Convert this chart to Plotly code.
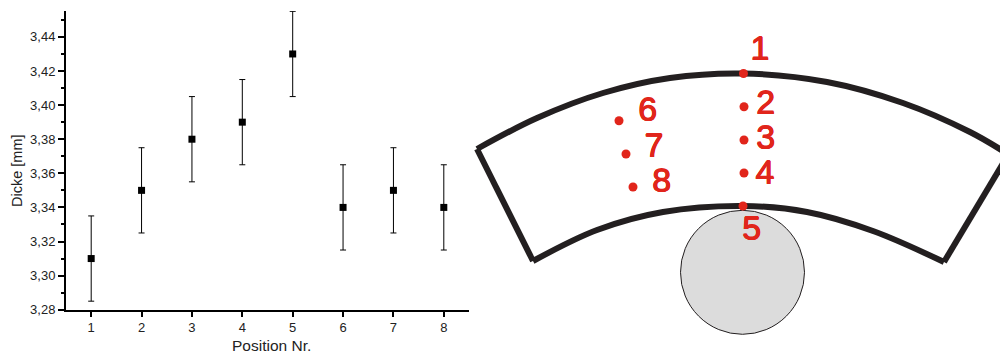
"""Dicke per Messposition, next to a sketch of the bent sample with the numbered positions."""

import plotly.graph_objects as go

# measurements
positions = [1, 2, 3, 4, 5, 6, 7, 8]
dicke = [3.31, 3.35, 3.38, 3.39, 3.43, 3.34, 3.35, 3.34]
dicke_err = [0.025, 0.025, 0.025, 0.025, 0.025, 0.025, 0.025, 0.025]
y_ticks = [3.28, 3.30, 3.32, 3.34, 3.36, 3.38, 3.40, 3.42, 3.44]

# sketch in page pixels
outer_x = [477, 537, 603, 670, 743, 827, 903, 970, 1003]
outer_y = [149, 118, 93, 78, 73.5, 82, 103, 132, 151]
inner_x = [533, 597, 663, 743, 807, 873, 944]
inner_y = [261, 230, 212, 206, 212, 231, 262]
left_x = [477, 533]
left_y = [149, 261]
right_x = [944, 1005]
right_y = [262, 160]
roller_x = [742.5]
roller_y = [272.3]
dot_x = [743.5, 744, 744, 744, 743, 619, 626, 633]
dot_y = [73.5, 106.7, 140, 173, 206, 120.7, 154, 187]
label_x = [760, 765.7, 765.7, 765, 751.7, 647.7, 654, 661.7]
label_y = [51, 105, 140, 175, 231, 112, 148, 183]
labels = ["1", "2", "3", "4", "5", "6", "7", "8"]

RED = "#e1251b"
DARK = "#231f20"
FONT = "Liberation Sans"

fig = go.Figure()

fig.add_trace(go.Scatter(
    x=positions,
    y=dicke,
    mode="markers",
    marker=dict(symbol="square", size=7, color="black"),
    error_y=dict(type="data", array=dicke_err, color="black", thickness=1, width=3),
    cliponaxis=False,
))

# sketch goes on a second pair of axes that spans the whole page
fig.add_trace(go.Scatter(
    x=roller_x,
    y=roller_y,
    mode="markers",
    marker=dict(size=124, color="#dcdcdc", line=dict(color="#231f20", width=1)),
    xaxis="x2",
    yaxis="y2",
))
for xs, ys, shape in [
    (outer_x, outer_y, "spline"),
    (inner_x, inner_y, "spline"),
    (left_x, left_y, "linear"),
    (right_x, right_y, "linear"),
]:
    fig.add_trace(go.Scatter(
        x=xs,
        y=ys,
        mode="lines",
        line=dict(color=DARK, width=6, shape=shape, smoothing=1),
        xaxis="x2",
        yaxis="y2",
    ))
fig.add_trace(go.Scatter(
    x=dot_x,
    y=dot_y,
    mode="markers",
    marker=dict(size=9, color=RED),
    xaxis="x2",
    yaxis="y2",
))
fig.add_trace(go.Scatter(
    x=label_x,
    y=label_y,
    mode="text",
    text=labels,
    textposition="middle center",
    # regular digits came out too thin, bold too heavy
    textfont=dict(
        family=FONT,
        size=34,
        color=RED,
        shadow=f"0.5px 0 0 {RED}, -0.5px 0 0 {RED}, 0 0.5px 0 {RED}, 0 -0.5px 0 {RED}",
    ),
    xaxis="x2",
    yaxis="y2",
))

fig.update_layout(
    width=1000,
    height=356,
    margin=dict(l=0, r=0, t=0, b=0),
    paper_bgcolor="white",
    plot_bgcolor="rgba(0,0,0,0)",
    showlegend=False,
    separators=",.",
    font=dict(family=FONT, size=13, color="#222222"),
    xaxis=dict(
        domain=[0.066, 0.469],
        range=[0.5, 8.5],
        tickvals=positions,
        ticks="outside",
        ticklen=5,
        tickwidth=2,
        tickcolor="black",
        showline=True,
        linecolor="black",
        linewidth=2,
        showgrid=False,
        zeroline=False,
        automargin=False,
    ),
    yaxis=dict(
        domain=[1 - 309.7 / 356, 1 - 11 / 356],
        range=[3.28, 3.4552],
        tickvals=y_ticks,
        tickformat=".2f",
        ticks="outside",
        ticklen=6,
        tickwidth=2,
        tickcolor="black",
        minor=dict(dtick=0.02, tick0=3.29, ticks="outside", ticklen=3, tickwidth=2, tickcolor="black"),
        showline=True,
        linecolor="black",
        linewidth=2,
        showgrid=False,
        zeroline=False,
        automargin=False,
    ),
    xaxis2=dict(domain=[0, 1], range=[0, 1000], anchor="y2", visible=False, automargin=False),
    yaxis2=dict(domain=[0, 1], range=[356, 0], anchor="x2", visible=False, automargin=False),
    annotations=[
        dict(
            text="Position Nr.",
            x=271,
            y=345,
            xref="x2",
            yref="y2",
            showarrow=False,
            font=dict(size=15.5),
        ),
        dict(
            text="Dicke [mm]",
            x=17,
            y=171,
            xref="x2",
            yref="y2",
            textangle=-90,
            showarrow=False,
            font=dict(size=14.5),
        ),
    ],
)

# the page's default body margin would push the figure 8px off
fig.write_html(
    "out.html",
    config={"displayModeBar": False},
    post_script="document.body.style.margin = '0';",
)
